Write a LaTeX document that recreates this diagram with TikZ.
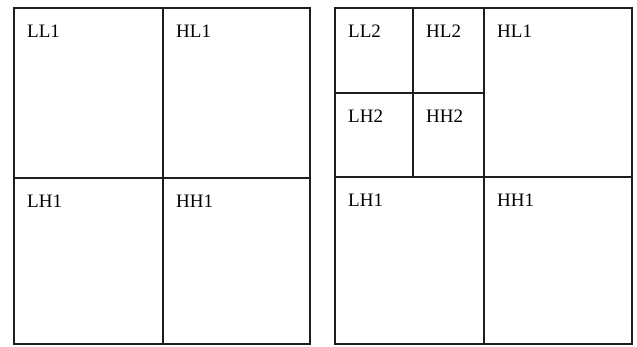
\documentclass[tikz,border=0pt]{standalone}
\usepackage{fontspec}
\setmainfont{Liberation Serif}
\usepackage{xcolor}
\usetikzlibrary{positioning}
\definecolor{bandline}{HTML}{1E1E1E}

\tikzset{
  band/.style={draw=bandline, line width=1.9pt, inner sep=0pt, anchor=north west},
  bandlabel/.style={anchor=base west, inner sep=0pt, font=\fontsize{19}{22}\selectfont}
}

\begin{document}
\begin{tikzpicture}[x=1pt, y=-1pt]
    \useasboundingbox (0,0) rectangle (637,347);
    % one level
    \node[band, minimum width=149pt, minimum height=170pt] (ll1) at (13,7) {};
    \node[band, minimum width=147pt, minimum height=170pt] (hl1) at (162,7) {};
    \node[band, minimum width=149pt, minimum height=166pt] (lh1) at (13,177) {};
    \node[band, minimum width=147pt, minimum height=166pt] (hh1) at (162,177) {};
    \node[bandlabel] (ll1t) at ([shift={(14pt,-31pt)}]ll1.north west) {LL1};
    \node[bandlabel] (hl1t) at ([shift={(14pt,-31pt)}]hl1.north west) {HL1};
    \node[bandlabel] (lh1t) at ([shift={(14pt,-31pt)}]lh1.north west) {LH1};
    \node[bandlabel] (hh1t) at ([shift={(14pt,-31pt)}]hh1.north west) {HH1};
    % two levels
    \node[band, minimum width=78pt, minimum height=85pt] (ll2) at (334,7) {};
    \node[band, minimum width=71pt, minimum height=85pt] (hl2) at (412,7) {};
    \node[band, minimum width=78pt, minimum height=84pt] (lh2) at (334,92) {};
    \node[band, minimum width=71pt, minimum height=84pt] (hh2) at (412,92) {};
    \node[band, minimum width=148pt, minimum height=169pt] (hl1b) at (483,7) {};
    \node[band, minimum width=149pt, minimum height=167pt] (lh1b) at (334,176) {};
    \node[band, minimum width=148pt, minimum height=167pt] (hh1b) at (483,176) {};
    \node[bandlabel] (ll2t) at ([shift={(14pt,-31pt)}]ll2.north west) {LL2};
    \node[bandlabel] (hl2t) at ([shift={(14pt,-31pt)}]hl2.north west) {HL2};
    \node[bandlabel] (lh2t) at ([shift={(14pt,-31pt)}]lh2.north west) {LH2};
    \node[bandlabel] (hh2t) at ([shift={(14pt,-31pt)}]hh2.north west) {HH2};
    \node[bandlabel] (hl1bt) at ([shift={(14pt,-31pt)}]hl1b.north west) {HL1};
    \node[bandlabel] (lh1bt) at ([shift={(14pt,-31pt)}]lh1b.north west) {LH1};
    \node[bandlabel] (hh1bt) at ([shift={(14pt,-31pt)}]hh1b.north west) {HH1};
  \end{tikzpicture}
\end{document}
